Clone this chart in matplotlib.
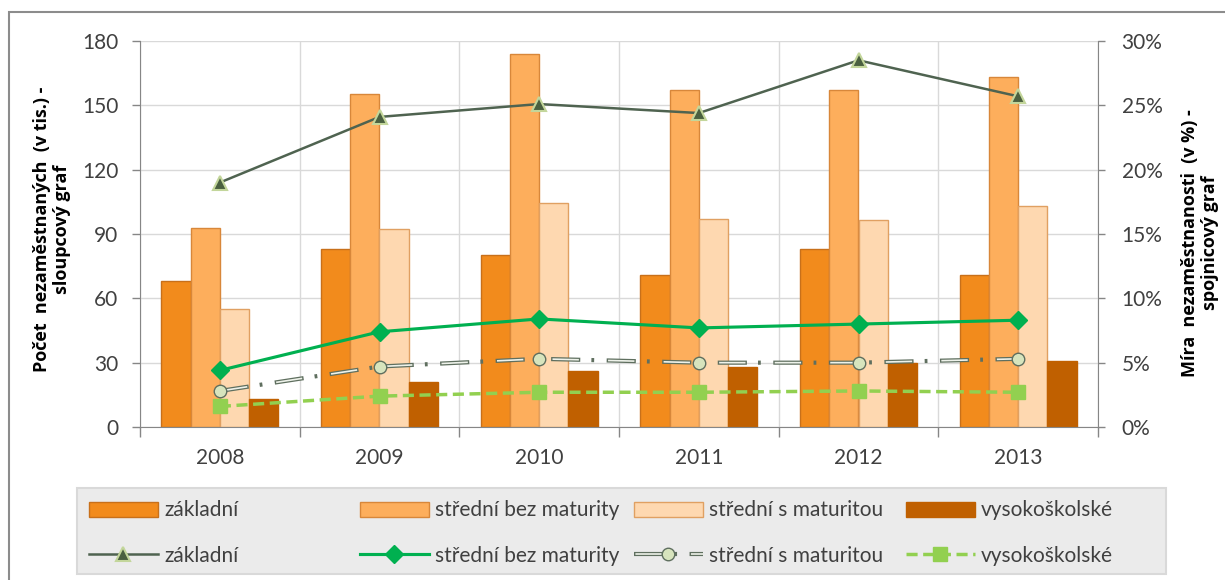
import numpy as np
import matplotlib
matplotlib.use('Agg')
import matplotlib.pyplot as plt
from matplotlib.patches import Rectangle, Patch
from matplotlib.ticker import PercentFormatter, NullFormatter

plt.rcParams['font.family'] = ['Lato', 'DejaVu Sans']
plt.rcParams['lines.scale_dashes'] = False

# data
years = ['2008', '2009', '2010', '2011', '2012', '2013']
labels = ['základní', 'střední bez maturity', 'střední s maturitou', 'vysokoškolské']

# number of unemployed (thousands) - bars
pocet_zakladni = [68, 83, 80, 71, 83, 71]
pocet_bez_mat = [93, 155.5, 174, 157, 157, 163]
pocet_s_mat = [55, 92.5, 104.5, 97, 96.5, 103]
pocet_vs = [13, 21, 26, 28, 30, 31]

# unemployment rate (%) - lines
mira_zakladni = [19.0, 24.1, 25.1, 24.4, 28.5, 25.7]
mira_bez_mat = [4.4, 7.4, 8.4, 7.7, 8.0, 8.3]
mira_s_mat = [2.8, 4.7, 5.3, 5.0, 5.0, 5.3]
mira_vs = [1.6, 2.4, 2.7, 2.7, 2.8, 2.7]

W, H = 1225, 580
gray = '#868686'
txt = '#404040'
fs = 15

fig = plt.figure(figsize=(W / 100, H / 100), dpi=100)
ax = fig.add_axes([140 / W, 1 - 427 / H, (1098 - 140) / W, (427 - 41) / H])

x = np.arange(len(years))
w = 0.183
bar_styles = [
    (pocet_zakladni, '#f28b1c', '#c8701a'),
    (pocet_bez_mat, '#fdae5c', '#d8873a'),
    (pocet_s_mat, '#fed8b0', '#e0a062'),
    (pocet_vs, '#c06000', '#c06000'),
]
bar_handles = []
for i, (vals, fc, ec) in enumerate(bar_styles):
    ax.bar(x + (i - 1.5) * w, vals, w, color=fc, edgecolor=ec, linewidth=1, zorder=2)
    bar_handles.append(Patch(facecolor=fc, edgecolor=ec, linewidth=1))

ax.set_xlim(-0.5, 5.5)
ax.set_ylim(0, 180)
ax.set_yticks(np.arange(0, 181, 30))
ax.set_xticks(np.arange(-0.5, 6, 1))
ax.xaxis.set_major_formatter(NullFormatter())
ax.set_xticks(x, minor=True)
ax.set_xticklabels(years, minor=True)
ax.tick_params(axis='x', which='major', length=7, color=gray, width=1)
ax.tick_params(axis='x', which='minor', length=0, pad=15, labelsize=fs, labelcolor=txt)
ax.tick_params(axis='y', length=5.5, color=gray, width=1, pad=10, labelsize=fs, labelcolor=txt)
ax.grid(True, which='major', color='#d9d9d9', linewidth=1)
ax.set_axisbelow(True)
for s in ['top', 'right']:
    ax.spines[s].set_visible(False)
for s in ['left', 'bottom']:
    ax.spines[s].set_color(gray)

ax2 = ax.twinx()
ax2.set_ylim(0, 30)
ax2.set_yticks(np.arange(0, 31, 5))
ax2.yaxis.set_major_formatter(PercentFormatter(100, decimals=0))
ax2.tick_params(axis='y', length=5, color=gray, width=1, pad=12, labelsize=fs, labelcolor=txt)
for s in ['top', 'left', 'bottom']:
    ax2.spines[s].set_visible(False)
ax2.spines['right'].set_color(gray)

l1, = ax2.plot(x, mira_zakladni, color='#4f6350', lw=1.8, marker='^', ms=10,
               mfc='#4a6040', mec='#c3d69b', mew=1.5, zorder=4)
l2, = ax2.plot(x, mira_bez_mat, color='#00b050', lw=2.25, marker='D', ms=9,
               mfc='#00b050', mec='#00b050', zorder=4)
l3a, = ax2.plot(x, mira_s_mat, color='#5f6f5f', lw=3, linestyle=(0, (21, 8, 2, 9)), zorder=3)
l3b, = ax2.plot(x, mira_s_mat, color='#eef2ea', lw=1.2, linestyle=(39, (19, 21)), zorder=3)
l3c, = ax2.plot(x, mira_s_mat, ls='none', marker='o', ms=9, mfc='#d7e4bd',
                mec='#5f6f5f', mew=1, zorder=4)
l4, = ax2.plot(x, mira_vs, color='#92d050', lw=2.5, linestyle=(0, (8, 4)), marker='s',
               ms=10, mfc='#92d050', mec='#92d050', zorder=4)
line_handles = [l1, l2, (l3a, l3b, l3c), l4]

# legend background and chart border
fig.add_artist(Rectangle((77 / W, 1 - 574 / H), (1166 - 77) / W, (574 - 488) / H,
                         transform=fig.transFigure, facecolor='#ebebeb',
                         edgecolor='#d9d9d9', linewidth=1.5, zorder=0))
fig.add_artist(Rectangle((9 / W, -0.1), 1.2, 1.1 - 12 / H, transform=fig.transFigure,
                         fill=False, edgecolor='#8c8c8c', linewidth=1.5, zorder=0))

cols_x = [89, 360, 634, 906]
for i in range(4):
    fig.legend(handles=[bar_handles[i], line_handles[i]], labels=[labels[i], labels[i]],
               loc='center left', bbox_to_anchor=(cols_x[i] / W, 1 - 533 / H),
               frameon=False, fontsize=fs, handlelength=3.3, handletextpad=0.3,
               borderpad=0, borderaxespad=0, labelspacing=1.2, labelcolor=txt)

title_font = dict(rotation=90, ha='center', va='center', multialignment='center',
                  fontsize=13, fontweight='bold', family=['Open Sans', 'DejaVu Sans'],
                  linespacing=1.2)
fig.text(52 / W, 1 - 229 / H, 'Počet  nezaměstnaných  (v tis.) -\nsloupcový graf', **title_font)
fig.text(1200 / W, 1 - 243 / H, 'Míra  nezaměstnanosti  (v %) -\nspojnicový graf', **title_font)

fig.savefig('out.png', dpi=100)
